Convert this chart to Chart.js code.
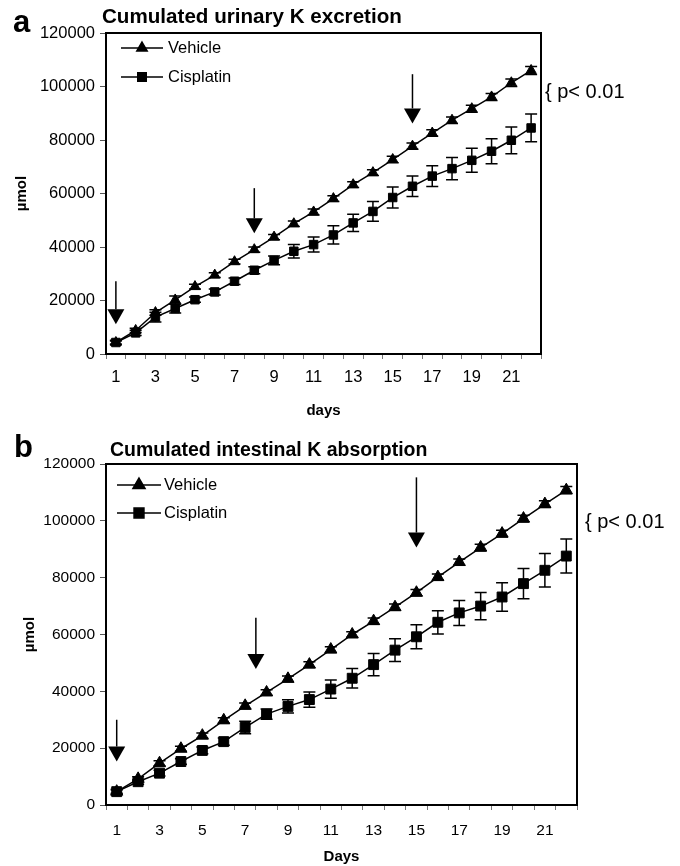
<!DOCTYPE html>
<html>
<head>
<meta charset="utf-8">
<script src="https://cdn.jsdelivr.net/npm/chart.js@4.4.1/dist/chart.umd.min.js"></script>
<style>
  body { margin: 0; background: #fff; }
  canvas { display: block; }
</style>
</head>
<body>
<canvas id="chartA" width="680" height="433"></canvas>
<canvas id="chartB" width="680" height="433"></canvas>
<script>
// days of the study (category axis), only odd ones get a label
const days = ['1','2','3','4','5','6','7','8','9','10','11','12','13','14','15','16','17','18','19','20','21','22'];
const yTicks = [0, 20000, 40000, 60000, 80000, 100000, 120000];

// a: cumulated urinary K excretion (µmol)
const urinVehicle    = [4300, 8800, 15500, 20200, 25200, 29500, 34500, 39000, 43700, 48700, 53100, 58100, 63300, 67800, 72700, 77700, 82600, 87400, 91700, 96100, 101400, 106000];
const urinVehicleErr = [600, 800, 1000, 1500, 900, 900, 900, 1000, 1000, 1000, 1100, 1100, 1100, 1100, 1200, 1200, 1200, 1200, 1300, 1300, 1400, 1500];
const urinCis         = [4300, 7900, 13800, 17000, 20300, 23200, 27200, 31300, 35000, 38400, 40900, 44500, 49000, 53300, 58500, 62700, 66500, 69300, 72400, 75800, 79900, 84500];
const urinCisErr      = [800, 1000, 1800, 1700, 1000, 1100, 1200, 1300, 1600, 2500, 2800, 3400, 3200, 3700, 3900, 3800, 3900, 4200, 4500, 4700, 5000, 5200];

// b: cumulated intestinal K absorption (µmol)
const intVehicle    = [4700, 9200, 14700, 19800, 24400, 29800, 34900, 39600, 44400, 49400, 54700, 60000, 64700, 69600, 74700, 80200, 85500, 90600, 95500, 100800, 105900, 110800];
const intVehicleErr = [600, 700, 900, 900, 900, 900, 1000, 1000, 1000, 1000, 1000, 1000, 1100, 1100, 1100, 1100, 1100, 1200, 1200, 1200, 1200, 1300];
const intCis        = [4700, 8200, 11200, 15300, 19200, 22300, 27300, 32000, 34700, 37100, 40800, 44600, 49400, 54500, 59200, 64300, 67600, 70000, 73200, 77900, 82600, 87600];
const intCisErr     = [800, 900, 1000, 1000, 1200, 1300, 2200, 1800, 2300, 2700, 3200, 3400, 3900, 4000, 4200, 4100, 4400, 4800, 5000, 5300, 5900, 6000];

// arrows (category index, top value, tip value)
const arrowDayA = [0, 7, 15];
const arrowTopA = [27200, 62000, 104600];
const arrowTipA = [11100, 45100, 86200];
const arrowDayB = [0, 6.5, 14];
const arrowTopB = [30000, 65900, 115300];
const arrowTipB = [15300, 47900, 90600];

const FONT = '"Liberation Sans", Arial, Helvetica, sans-serif';
Chart.defaults.font.family = FONT;
Chart.defaults.color = '#000';

// error bars from dataset.errors
const errorBars = {
  id: 'errorBars',
  afterDatasetsDraw(chart) {
    const ctx = chart.ctx;
    const y = chart.scales.y;
    ctx.save();
    ctx.strokeStyle = '#000';
    ctx.lineWidth = 1.5;
    chart.data.datasets.forEach((ds, i) => {
      const meta = chart.getDatasetMeta(i);
      meta.data.forEach((pt, j) => {
        const e = ds.errors[j];
        const hi = y.getPixelForValue(ds.data[j] + e);
        const lo = y.getPixelForValue(ds.data[j] - e);
        const cap = 6;
        ctx.beginPath();
        ctx.moveTo(pt.x, hi); ctx.lineTo(pt.x, lo);
        ctx.moveTo(pt.x - cap, hi); ctx.lineTo(pt.x + cap, hi);
        ctx.moveTo(pt.x - cap, lo); ctx.lineTo(pt.x + cap, lo);
        ctx.stroke();
      });
    });
    ctx.restore();
  }
};

// frame, panel letter, title, legend, arrows, p note
const decor = {
  id: 'decor',
  afterDraw(chart, args, o) {
    const ctx = chart.ctx;
    const a = chart.chartArea;
    const xs = chart.scales.x, ys = chart.scales.y;
    ctx.save();
    ctx.strokeStyle = '#000';
    ctx.lineWidth = 2;
    ctx.strokeRect(a.left, a.top, a.right - a.left, a.bottom - a.top);

    ctx.fillStyle = '#000';
    ctx.textBaseline = 'alphabetic';
    ctx.textAlign = 'left';
    ctx.font = 'bold 31px ' + FONT;
    ctx.fillText(o.letter, o.letterX, o.letterY);
    ctx.font = 'bold ' + o.titleSize + 'px ' + FONT;
    ctx.fillText(o.title, o.titleX, o.titleY);

    // legend
    chart.data.datasets.forEach((ds, i) => {
      const ly = o.legY[i];
      ctx.lineWidth = 1.5;
      ctx.beginPath();
      ctx.moveTo(o.legX1, ly); ctx.lineTo(o.legX2, ly);
      ctx.stroke();
      Chart.helpers.drawPoint(ctx, { pointStyle: ds.pointStyle, radius: ds.pointRadius, rotation: 0, borderWidth: 1 }, (o.legX1 + o.legX2) / 2, ly);
      ctx.textBaseline = 'middle';
      ctx.font = '16.5px ' + FONT;
      ctx.fillText(ds.label, o.legTextX, ly);
    });

    // arrows
    ctx.lineWidth = 1.5;
    o.arrowDay.forEach((d, i) => {
      const x = xs.getPixelForValue(d);
      const top = ys.getPixelForValue(o.arrowTop[i]);
      const tip = ys.getPixelForValue(o.arrowTip[i]);
      const hh = 15, hw = 17;
      ctx.beginPath();
      ctx.moveTo(x, top); ctx.lineTo(x, tip - hh);
      ctx.stroke();
      ctx.beginPath();
      ctx.moveTo(x - hw / 2, tip - hh); ctx.lineTo(x + hw / 2, tip - hh); ctx.lineTo(x, tip);
      ctx.closePath();
      ctx.fill();
    });

    ctx.font = '20px ' + FONT;
    ctx.textBaseline = 'middle';
    ctx.fillText('{ p< 0.01', o.pX, o.pY);
    ctx.restore();
  }
};

function makeChart(id, c) {
  return new Chart(document.getElementById(id), {
    type: 'line',
    data: {
      labels: days,
      datasets: [
        { label: 'Vehicle', data: c.vehicle, errors: c.vehicleErr, pointStyle: 'triangle', pointRadius: c.r,
          borderColor: '#000', backgroundColor: '#000', pointBackgroundColor: '#000', pointBorderColor: '#000',
          borderWidth: 1.5, pointBorderWidth: 1, tension: 0 },
        { label: 'Cisplatin', data: c.cis, errors: c.cisErr, pointStyle: 'rect', pointRadius: c.r,
          borderColor: '#000', backgroundColor: '#000', pointBackgroundColor: '#000', pointBorderColor: '#000',
          borderWidth: 1.5, pointBorderWidth: 1, tension: 0 }
      ]
    },
    options: {
      responsive: false,
      animation: false,
      layout: { padding: c.pad },
      plugins: { legend: { display: false }, tooltip: { enabled: false }, decor: c.decor },
      scales: {
        x: {
          offset: true,
          grid: { offset: true, drawOnChartArea: false, tickLength: 5, color: '#777' },
          border: { color: '#111', width: 2 },
          ticks: { autoSkip: false, maxRotation: 0, padding: c.xPad, font: { size: c.tick },
                   callback: (v, i) => (i % 2 === 0 ? days[i] : '') },
          title: { display: true, text: c.xTitle, font: { size: 15, weight: 'bold' }, padding: { top: 0, bottom: c.xTitlePad } },
          afterFit: s => { s.height = c.xH; }
        },
        y: {
          min: 0, max: 120000,
          afterBuildTicks: s => { s.ticks = yTicks.map(v => ({ value: v })); },
          grid: { drawOnChartArea: false, tickLength: 6, color: '#555' },
          border: { color: '#111', width: 2 },
          ticks: { padding: 5, font: { size: c.tick }, callback: v => String(v) },
          title: { display: true, text: 'µmol', font: { size: 15, weight: 'bold' }, padding: { top: c.yTitlePad, bottom: 0 } },
          afterFit: s => { s.width = 106; }
        }
      }
    },
    plugins: [errorBars, decor]
  });
}

makeChart('chartA', {
  vehicle: urinVehicle, vehicleErr: urinVehicleErr, cis: urinCis, cisErr: urinCisErr,
  r: 6, tick: 16.5, xPad: 9, xH: 79, xTitle: 'days', xTitlePad: 13, yTitlePad: 13,
  pad: { top: 33, right: 139, left: 0, bottom: 0 },
  decor: {
    letter: 'a', letterX: 13, letterY: 32,
    title: 'Cumulated urinary K excretion', titleSize: 20.6, titleX: 102, titleY: 23,
    legX1: 121, legX2: 163, legY: [48, 77], legTextX: 168,
    arrowDay: arrowDayA, arrowTop: arrowTopA, arrowTip: arrowTipA,
    pX: 545, pY: 92
  }
});

makeChart('chartB', {
  vehicle: intVehicle, vehicleErr: intVehicleErr, cis: intCis, cisErr: intCisErr,
  r: 7, tick: 15.5, xPad: 11, xH: 61, xTitle: 'Days', xTitlePad: 0, yTitlePad: 21,
  pad: { top: 31, right: 103, left: 0, bottom: 0 },
  decor: {
    letter: 'b', letterX: 14, letterY: 24,
    title: 'Cumulated intestinal K absorption', titleSize: 19.5, titleX: 110, titleY: 23,
    legX1: 117, legX2: 161, legY: [52, 80], legTextX: 164,
    arrowDay: arrowDayB, arrowTop: arrowTopB, arrowTip: arrowTipB,
    pX: 585, pY: 89
  }
});
</script>
</body>
</html>
